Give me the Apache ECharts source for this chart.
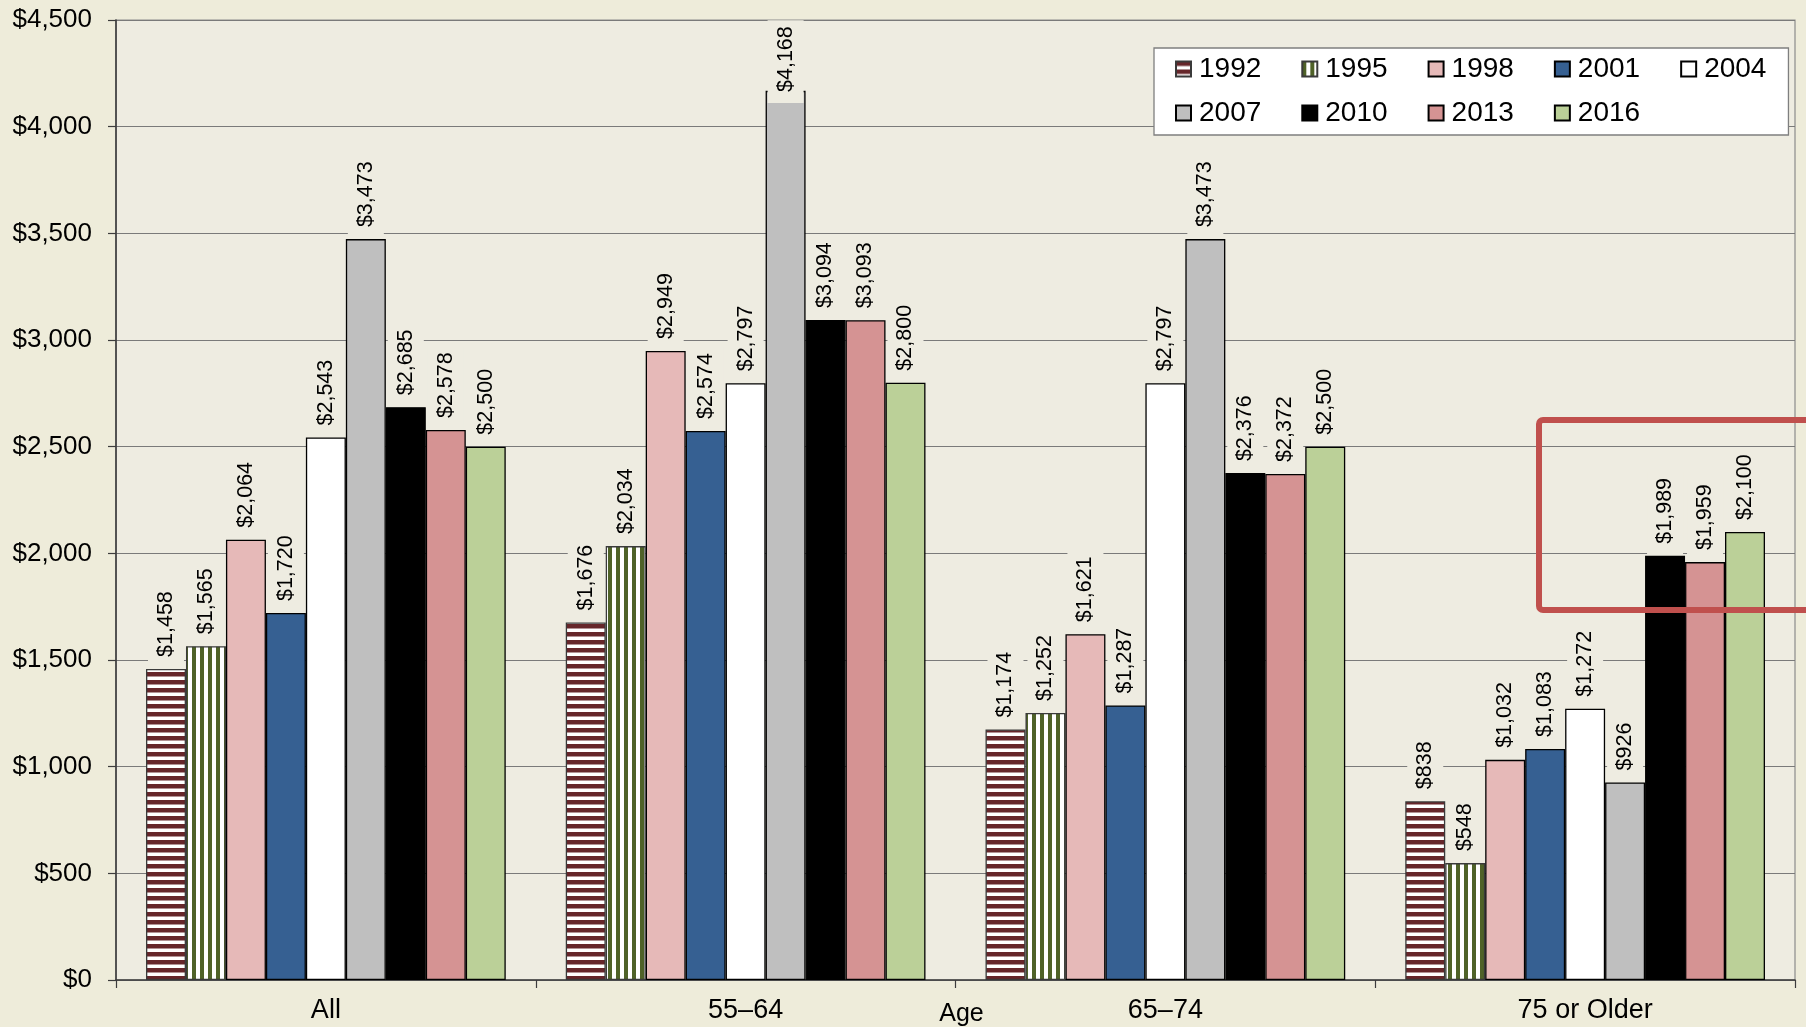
<!DOCTYPE html>
<html>
<head>
<meta charset="utf-8">
<script src="https://cdn.jsdelivr.net/npm/echarts@6/dist/echarts.min.js"></script>
<style>
  html, body { margin: 0; padding: 0; background: #EEECDA; }
  #chart { width: 1806px; height: 1027px; }
</style>
</head>
<body>
<div id="chart"></div>
<script>
// Median value of holdings by age group and survey year
const categories = ['All', '55–64', '65–74', '75 or Older'];
const years = ['1992', '1995', '1998', '2001', '2004', '2007', '2010', '2013', '2016'];

const v1992 = [1458, 1676, 1174, 838];
const v1995 = [1565, 2034, 1252, 548];
const v1998 = [2064, 2949, 1621, 1032];
const v2001 = [1720, 2574, 1287, 1083];
const v2004 = [2543, 2797, 2797, 1272];
const v2007 = [3473, 4168, 3473, 926];
const v2010 = [2685, 3094, 2376, 1989];
const v2013 = [2578, 3093, 2372, 1959];
const v2016 = [2500, 2800, 2500, 2100];

const yMin = 0, yMax = 4500, yStep = 500;

const seriesValues = [v1992, v1995, v1998, v2001, v2004, v2007, v2010, v2013, v2016];

// Striped fills for the two earliest years
function stripes(horizontal, ink, paper) {
  const c = document.createElement('canvas');
  c.width = 8; c.height = 8;
  const g = c.getContext('2d');
  g.fillStyle = paper; g.fillRect(0, 0, 8, 8);
  g.fillStyle = ink;
  if (horizontal) g.fillRect(0, 0, 8, 4.5); else g.fillRect(0, 0, 4, 8);
  return { image: c, repeat: 'repeat' };
}

const fills = [
  stripes(true, '#66262A', '#FFFFFF'),
  stripes(false, '#4F6228', '#FFFFFF'),
  '#E6B9B8',
  '#366092',
  '#FFFFFF',
  '#BFBFBF',
  '#000000',
  '#D59393',
  '#BBD098'
];

const plotBg = '#EEECE1';
const gridTop = 20, gridBottom = 47;
const chartH = 1027;
const plotH = chartH - gridTop - gridBottom;
const labelExtent = 84; // vertical room a rotated value label needs above its bar

function money(v) { return '$' + v.toLocaleString('en-US'); }

function buildData(vals) {
  return vals.map(function (v) {
    const room = (yMax - v) / (yMax - yMin) * plotH;
    const item = { value: v };
    if (room < labelExtent) item.label = { distance: room - labelExtent + 1 };
    return item;
  });
}

const series = years.map(function (y, i) {
  return {
    name: y,
    type: 'bar',
    barGap: '0%',
    barCategoryGap: '14.3%',
    data: buildData(seriesValues[i]),
    itemStyle: {
      color: fills[i],
      borderColor: i < 2 ? '#3a3a3a' : '#000000',
      borderWidth: 1.3
    },
    label: {
      show: true,
      position: 'top',
      rotate: 90,
      align: 'left',
      verticalAlign: 'middle',
      distance: 1,
      formatter: function (p) { return money(p.value); },
      fontSize: 21.5,
      color: '#000',
      fontFamily: 'Liberation Sans',
      backgroundColor: plotBg,
      padding: [7, 6, 7, 11]
    },
    emphasis: { disabled: true }
  };
});

const legendCommon = {
  left: 1154,
  orient: 'horizontal',
  itemWidth: 15,
  itemHeight: 15,
  itemGap: 40,
  icon: 'rect',
  textStyle: {
    fontSize: 28,
    lineHeight: 30,
    color: '#000',
    fontFamily: 'Liberation Sans',
    padding: [0, 0, 0, 3]
  }
};

const option = {
  backgroundColor: '#EEECDA',
  animation: false,
  textStyle: { fontFamily: 'Liberation Sans' },
  grid: {
    left: 116, right: 11, top: gridTop, bottom: gridBottom,
    outerBoundsMode: 'none',
    containLabel: false,
    show: true,
    backgroundColor: plotBg,
    borderColor: '#8C8C8C',
    borderWidth: 1.2
  },
  legend: [
    Object.assign({}, legendCommon, {
      data: years.slice(0, 5),
      top: 48,
      padding: [6, 22, 51, 21],
      backgroundColor: '#FFFFFF',
      borderColor: '#7F7F7F',
      borderWidth: 1.3,
      z: 4
    }),
    Object.assign({}, legendCommon, {
      data: years.slice(5),
      top: 92,
      padding: [6, 22, 6, 21],
      z: 5
    })
  ],
  xAxis: {
    type: 'category',
    data: categories,
    name: 'Age',
    nameLocation: 'middle',
    nameGap: 22,
    nameMoveOverlap: false,
    nameTextStyle: { fontSize: 25, color: '#000', padding: [0, 0, 0, 12] },
    axisLine: { show: true, lineStyle: { color: '#3C3C3C', width: 1.6 } },
    axisTick: { show: true, length: 8, lineStyle: { color: '#3C3C3C', width: 1.2 } },
    axisLabel: { fontSize: 27, color: '#000', margin: 17, interval: 0 },
    splitLine: { show: false }
  },
  yAxis: {
    type: 'value',
    min: yMin,
    max: yMax,
    interval: yStep,
    axisLine: { show: true, lineStyle: { color: '#3C3C3C', width: 1.6 } },
    axisTick: { show: true, length: 8, lineStyle: { color: '#3C3C3C', width: 1.2 } },
    axisLabel: {
      fontSize: 26, color: '#000', margin: 24,
      formatter: function (v) { return money(v); }
    },
    splitLine: { show: true, lineStyle: { color: '#7A7A7A', width: 1.1 } }
  },
  series: series,
  graphic: [{
    type: 'rect',
    z: 100,
    shape: { x: 1539, y: 420, width: 330, height: 190, r: 4 },
    style: { fill: 'none', stroke: '#C0504D', lineWidth: 6 }
  }]
};

const chart = echarts.init(document.getElementById('chart'), null, { renderer: 'canvas' });
chart.setOption(option);
</script>
</body>
</html>
